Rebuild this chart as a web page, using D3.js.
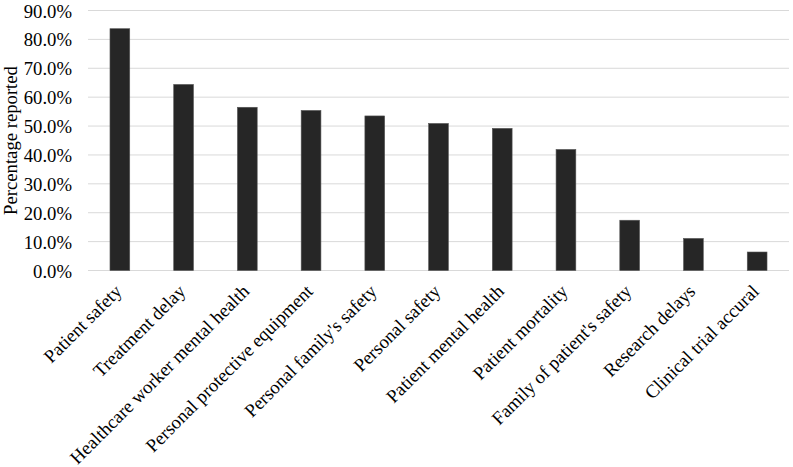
<!DOCTYPE html>
<html><head><meta charset="utf-8">
<script src="https://cdn.jsdelivr.net/npm/d3@7/dist/d3.min.js"></script>
<style>body{margin:0;background:#fff}svg{display:block}</style>
</head><body>
<svg id="c" width="793" height="467"></svg>
<script>
const categories = ["Patient safety","Treatment delay","Healthcare worker mental health","Personal protective equipment","Personal family's safety","Personal safety","Patient mental health","Patient mortality","Family of patient's safety","Research delays","Clinical trial accural"];
const values = [83.7, 64.4, 56.5, 55.4, 53.5, 50.9, 49.2, 41.9, 17.4, 11.1, 6.4];
const yTicks = [0,10,20,30,40,50,60,70,80,90];
const yTitle = "Percentage reported";

const svg = d3.select("#c");
const m = {l:88, r:4, t:10.5, b:196.5};
const W = 793, H = 467;
const x = d3.scaleBand().domain(categories).range([m.l, W-m.r]).paddingInner(0.69).paddingOuter(0.345);
const y = d3.scaleLinear().domain([0,90]).range([H-m.b, m.t]);
const fs = 18.7;
const ff = "Liberation Serif";

svg.append("g").selectAll("line").data(yTicks).join("line")
  .attr("x1", m.l).attr("x2", W-m.r)
  .attr("y1", d=>y(d)).attr("y2", d=>y(d))
  .attr("stroke", "#d9d9d9").attr("stroke-width", 1);

svg.append("g").selectAll("rect").data(values).join("rect")
  .attr("x", (d,i)=>x(categories[i]))
  .attr("width", x.bandwidth())
  .attr("y", d=>y(d))
  .attr("height", d=>y(0)-y(d))
  .attr("fill", "#262626")
  .attr("stroke", "#555").attr("stroke-width", 0.6);

const ya = d3.axisLeft(y).tickValues(yTicks).tickFormat(d=>d.toFixed(1)+"%").tickSize(0).tickPadding(16);
const yg = svg.append("g").attr("transform", `translate(${m.l},0)`).call(ya);
yg.attr("font-family", ff).attr("font-size", fs);
yg.select(".domain").remove();
yg.selectAll("text").attr("font-family", ff).attr("font-size", fs).attr("fill", "#000").attr("dy","0.35em");

const xa = d3.axisBottom(x).tickSize(0).tickPadding(0);
const xg = svg.append("g").attr("transform", `translate(0,${y(0)})`).call(xa);
xg.attr("font-family", ff).attr("font-size", fs);
xg.select(".domain").remove();
xg.selectAll("text")
  .attr("font-family", ff).attr("font-size", fs).attr("fill", "#000")
  .attr("text-anchor", "end")
  .attr("dy", null).attr("y", 0)
  .attr("transform", "translate(3,22) rotate(-45)");

svg.append("text")
  .attr("transform", `translate(17,${(m.t + y(0))/2}) rotate(-90)`)
  .attr("text-anchor", "middle")
  .attr("font-family", ff).attr("font-size", fs).attr("fill", "#000")
  .text(yTitle);
</script>
</body></html>
